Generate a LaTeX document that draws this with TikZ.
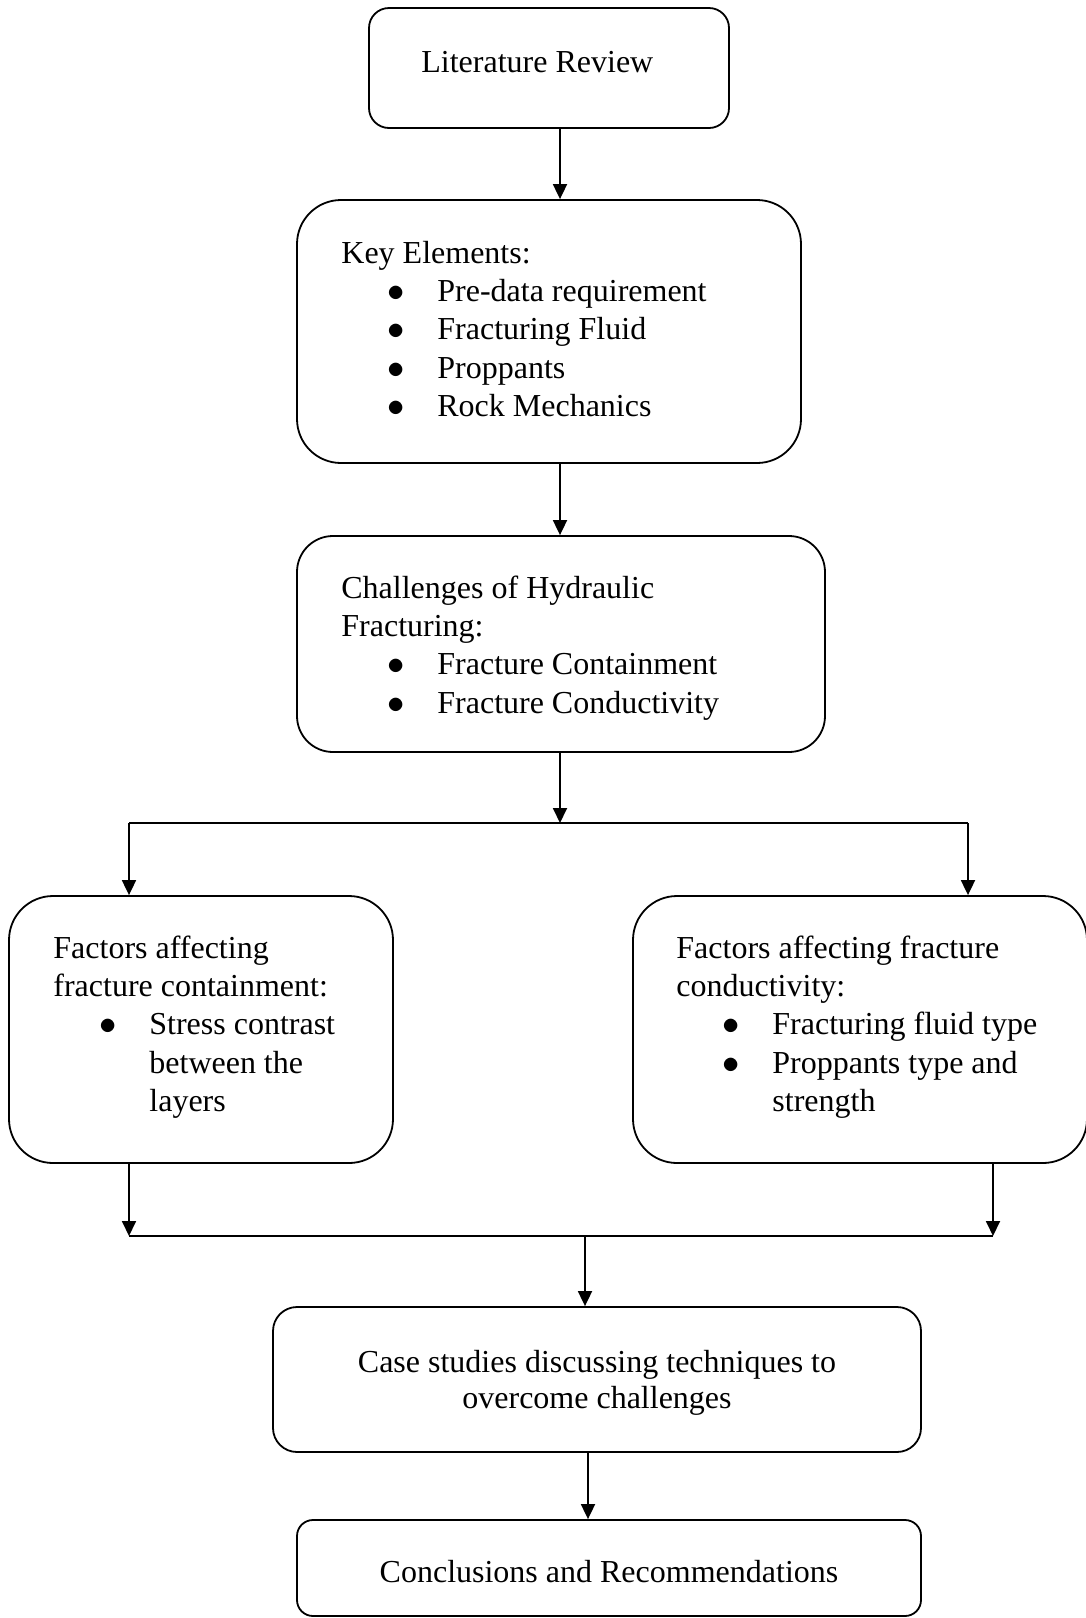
\documentclass[tikz,border=0pt]{standalone}
\usepackage{fontspec}
\setmainfont{Liberation Serif}
\usetikzlibrary{positioning}
\usetikzlibrary{arrows.meta}
\newcommand\kitem[1]{\makebox[48pt][l]{\hspace*{27.5pt}\makebox[0pt]{$\bullet$}}#1}
\newcommand\kcont[1]{\hspace*{48pt}#1}
\tikzset{
    box/.style = {rectangle, draw=black, line width=0.9pt, inner sep=0pt},
    txt/.style = {inner sep=0pt, anchor=base west, font=\fontsize{16}{19.2}\selectfont},
    ctxt/.style = {inner sep=0pt, anchor=base, font=\fontsize{16}{18}\selectfont},
    arr/.style = {line width=0.9pt, -{Triangle[length=7.5pt,width=7pt]}},
    link/.style = {line width=0.9pt}
}
\begin{document}
\begin{tikzpicture}[x=0.5pt,y=-0.5pt]
\useasboundingbox (0,0) rectangle (1086,1618);
% boxes
\node[box, rounded corners=10pt, minimum width=180pt, minimum height=60pt] at (549,68) (lit) {};
\node[box, rounded corners=22pt, minimum width=252pt, minimum height=131.5pt] at (549,331.5) (key) {};
\node[box, rounded corners=18pt, minimum width=264pt, minimum height=108pt] at (561,644) (chal) {};
\node[box, rounded corners=22pt, minimum width=192pt, minimum height=133.5pt] at (201,1029.5) (cont) {};
\node[box, rounded corners=22pt, minimum width=227pt, minimum height=133.5pt] at (860,1029.5) (cond) {};
\node[box, rounded corners=12pt, minimum width=324pt, minimum height=72.5pt] at (597,1379.5) (case) {};
\node[box, rounded corners=8pt, minimum width=312pt, minimum height=48pt] at (609,1568) (concl) {};
%
\node[txt] at (421,72) (litt) {Literature Review};
\node[txt] at (341,263) (keyt) {\begin{tabular}[t]{@{}l@{}}Key Elements:\\
  \kitem{Pre-data requirement}\\ \kitem{Fracturing Fluid}\\ \kitem{Proppants}\\ \kitem{Rock Mechanics}\end{tabular}};
\node[txt] at (341,598) (chalt) {\begin{tabular}[t]{@{}l@{}}Challenges of Hydraulic\\ Fracturing:\\
  \kitem{Fracture Containment}\\ \kitem{Fracture Conductivity}\end{tabular}};
\node[txt] at (53,958) (contt) {\begin{tabular}[t]{@{}l@{}}Factors affecting\\ fracture containment:\\
  \kitem{Stress contrast}\\ \kcont{between the}\\ \kcont{layers}\end{tabular}};
\node[txt] at (676,958) (condt) {\begin{tabular}[t]{@{}l@{}}Factors affecting fracture\\ conductivity:\\
  \kitem{Fracturing fluid type}\\ \kitem{Proppants type and}\\ \kcont{strength}\end{tabular}};
\node[ctxt] at (597,1372) (caset) {\begin{tabular}[t]{@{}c@{}}Case studies discussing techniques to\\ overcome challenges\end{tabular}};
\node[ctxt] at (609,1582) (conclt) {Conclusions and Recommendations};
%
\coordinate (a1) at (560,0);
\coordinate (sm) at (560,823);
\coordinate (sl) at (129,823);
\coordinate (sr) at (968,823);
\coordinate (jl) at (129,1236);
\coordinate (jr) at (993,1236);
\coordinate (jm) at (585,1236);
\coordinate (a2) at (588,0);
%
\draw[arr] (lit.south -| a1) -- (key.north -| a1);
\draw[arr] (key.south -| a1) -- (chal.north -| a1);
\draw[arr] (chal.south -| sm) -- (sm);
\draw[link] (sl) -- (sr);
\draw[arr] (sl) -- (sl |- cont.north);
\draw[arr] (sr) -- (sr |- cond.north);
\draw[arr] (jl |- cont.south) -- (jl);
\draw[arr] (jr |- cond.south) -- (jr);
\draw[link] (jl) -- (jr);
\draw[arr] (jm) -- (jm |- case.north);
\draw[arr] (case.south -| a2) -- (concl.north -| a2);
\end{tikzpicture}
\end{document}
